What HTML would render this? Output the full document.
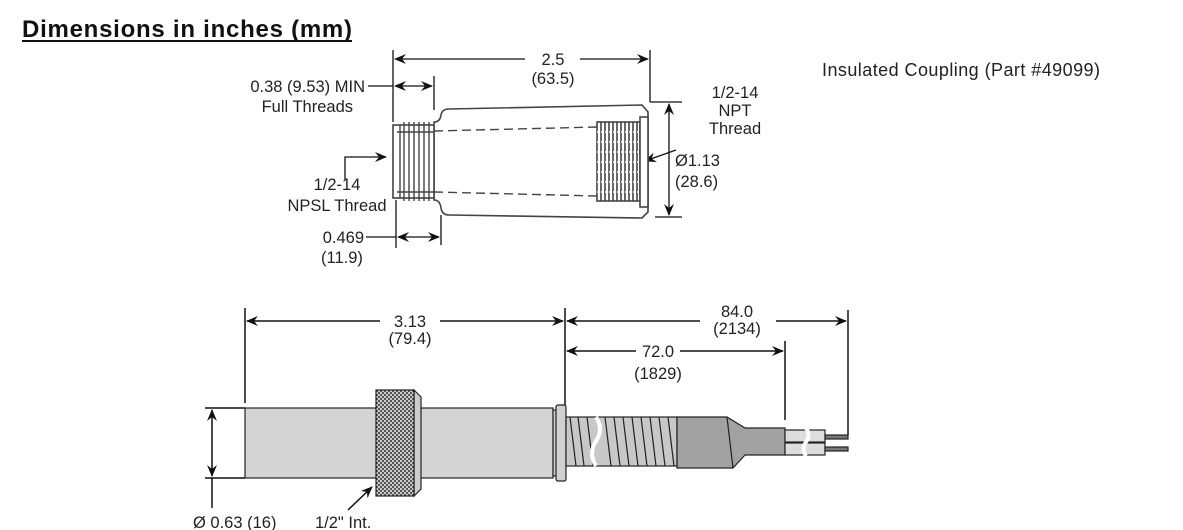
<!DOCTYPE html>
<html><head><style>
body{margin:0;background:#fff;width:1183px;height:530px;overflow:hidden}
svg{display:block}
text{font-family:"Liberation Sans",sans-serif;font-size:16.5px;fill:#222}
</style></head><body>
<svg width="1183" height="530" viewBox="0 0 1183 530">
<defs>
<marker id="a" viewBox="0 0 12 10" refX="11" refY="5" markerWidth="12" markerHeight="10" markerUnits="userSpaceOnUse" orient="auto-start-reverse"><path d="M0,0 L12,5 L0,10 L4,5z" fill="#111"/></marker>
<pattern id="k" width="4" height="4" patternUnits="userSpaceOnUse"><rect width="4" height="4" fill="#555"/><rect width="2" height="2" fill="#ccc"/><rect x="2" y="2" width="2" height="2" fill="#ccc"/></pattern>
</defs>
<text x="22" y="37" textLength="330" style="font-size:24px;font-weight:bold;fill:#111">Dimensions in inches (mm)</text>
<line x1="22" y1="41" x2="352" y2="41" stroke="#111" stroke-width="2"/>
<text x="822" y="76" textLength="278" style="font-size:18px">Insulated Coupling (Part #49099)</text>

<g stroke="#111" stroke-width="1.3" fill="none">
<line x1="393" y1="50" x2="393" y2="122"/>
<line x1="650" y1="50" x2="650" y2="102"/>
<line x1="395" y1="59" x2="525" y2="59" marker-start="url(#a)"/>
<line x1="580" y1="59" x2="648" y2="59" marker-end="url(#a)"/>
<line x1="434" y1="76" x2="434" y2="110"/>
<line x1="368" y1="86" x2="393" y2="86"/>
<line x1="395" y1="86" x2="432" y2="86" marker-start="url(#a)" marker-end="url(#a)"/>
<line x1="396" y1="200" x2="396" y2="248"/>
<line x1="441" y1="215" x2="441" y2="245"/>
<line x1="366" y1="237" x2="396" y2="237"/>
<line x1="398" y1="237" x2="439" y2="237" marker-start="url(#a)" marker-end="url(#a)"/>
<polyline points="345,180 345,157 386,157" marker-end="url(#a)"/>
<line x1="676" y1="150" x2="645" y2="161" marker-end="url(#a)"/>
<line x1="650" y1="102" x2="682" y2="102"/>
<line x1="655" y1="217" x2="682" y2="217"/>
<line x1="669" y1="104" x2="669" y2="215" marker-start="url(#a)" marker-end="url(#a)"/>
</g>
<g stroke="#444" stroke-width="1.6" fill="#fff">
<path d="M434,122 Q440,122 441,115 Q442,109 449,109 L642,105 L648,112 L648,212 L642,218 L449,215 Q442,215 441,208 Q440,200 434,200 Z"/>
<rect x="393" y="125" width="41" height="73"/>
<rect x="597" y="122" width="43" height="79" fill="#fff"/>
<rect x="640" y="117" width="8" height="90"/>
</g>
<g stroke="#444" stroke-width="1.4" fill="none">
<line x1="434" y1="131" x2="597" y2="127" stroke-dasharray="9,5"/>
<line x1="434" y1="192" x2="597" y2="196" stroke-dasharray="9,5"/>
<path d="M400,125V198M404,122V201M409,122V201M414,122V201M419,122V201M424,122V201M429,122V201M397,132H434M397,192H434"/>
<path d="M601,122V201M605,122V201M609,122V201M613,122V201M617,122V201M621,122V201M625,122V201M629,122V201M633,122V201M637,122V201" stroke-width="1.6"/>
<path d="M597,132H640M597,142H640M597,152H640M597,162H640M597,172H640M597,182H640M597,192H640" stroke="#fff" stroke-width="1.4" stroke-dasharray="2,2"/>
</g>
<text x="365" y="92" text-anchor="end">0.38 (9.53) MIN</text>
<text x="353" y="112" text-anchor="end">Full Threads</text>
<text x="553" y="65" text-anchor="middle">2.5</text>
<text x="553" y="84" text-anchor="middle">(63.5)</text>
<text x="735" y="98" text-anchor="middle">1/2-14</text>
<text x="735" y="116" text-anchor="middle">NPT</text>
<text x="735" y="134" text-anchor="middle">Thread</text>
<text x="675" y="166">Ø1.13</text>
<text x="675" y="187">(28.6)</text>
<text x="337" y="190" text-anchor="middle">1/2-14</text>
<text x="337" y="211" text-anchor="middle">NPSL Thread</text>
<text x="364" y="243" text-anchor="end">0.469</text>
<text x="342" y="263" text-anchor="middle">(11.9)</text>

<g stroke="#111" stroke-width="1.5" fill="none">
<line x1="245" y1="308" x2="245" y2="403"/>
<line x1="565" y1="308" x2="565" y2="408"/>
<line x1="848" y1="310" x2="848" y2="435"/>
<line x1="785" y1="341" x2="785" y2="420"/>
<line x1="247" y1="321" x2="380" y2="321" marker-start="url(#a)"/>
<line x1="440" y1="321" x2="563" y2="321" marker-end="url(#a)"/>
<line x1="567" y1="321" x2="700" y2="321" marker-start="url(#a)"/>
<line x1="776" y1="321" x2="846" y2="321" marker-end="url(#a)"/>
<line x1="567" y1="351" x2="636" y2="351" marker-start="url(#a)"/>
<line x1="680" y1="351" x2="783" y2="351" marker-end="url(#a)"/>
<line x1="205" y1="408" x2="245" y2="408"/>
<line x1="205" y1="478" x2="245" y2="478"/>
<line x1="212" y1="410" x2="212" y2="476" marker-start="url(#a)" marker-end="url(#a)"/>
<line x1="212" y1="478" x2="212" y2="508"/>
<line x1="348" y1="510" x2="372" y2="487" marker-end="url(#a)"/>
</g>
<text x="410" y="327" text-anchor="middle">3.13</text>
<text x="410" y="344" text-anchor="middle">(79.4)</text>
<text x="737" y="317" text-anchor="middle">84.0</text>
<text x="737" y="334" text-anchor="middle">(2134)</text>
<text x="658" y="357" text-anchor="middle">72.0</text>
<text x="658" y="379" text-anchor="middle">(1829)</text>
<text x="193" y="528">Ø 0.63 (16)</text>
<text x="315" y="528">1/2" Int.</text>

<g stroke="#222" stroke-width="1.2">
<rect x="245" y="408" width="308" height="70" fill="#d4d4d4"/>
<path d="M414,390 L421,397 L421,489 L414,496 Z" fill="#ccc"/>
<rect x="376" y="390" width="38" height="106" fill="url(#k)"/>
<rect x="553" y="410" width="8" height="66" fill="#ccc"/>
<rect x="556" y="405" width="10" height="76" fill="#d0d0d0" rx="2"/>
<rect x="566" y="417" width="111" height="49" fill="#c8c8c8"/>
<path d="M570,417l6,49M578,417l6,49M587,417l6,49M605,417l6,49M614,417l6,49M623,417l6,49M632,417l6,49M641,417l6,49M650,417l6,49M659,417l6,49M668,417l6,49" fill="none"/>
<path d="M596,417 q8,12 0,24 q-8,12 0,25" stroke="#fff" stroke-width="4" fill="none"/>
<path d="M677,417 L727,417 L745,428 L785,428 L785,455 L745,455 L733,468 L677,468 Z" fill="#a2a2a2"/>
<line x1="727" y1="417" x2="733" y2="468"/>
<rect x="785" y="430" width="40" height="12" fill="#ddd"/>
<rect x="785" y="443" width="40" height="12" fill="#ddd"/>
<path d="M806,428 q5,7 0,14 q-5,7 0,14" stroke="#fff" stroke-width="4" fill="none"/>
<rect x="825" y="435" width="23" height="4" fill="#777"/>
<rect x="825" y="447" width="23" height="4" fill="#777"/>
</g>
</svg>
</body></html>
